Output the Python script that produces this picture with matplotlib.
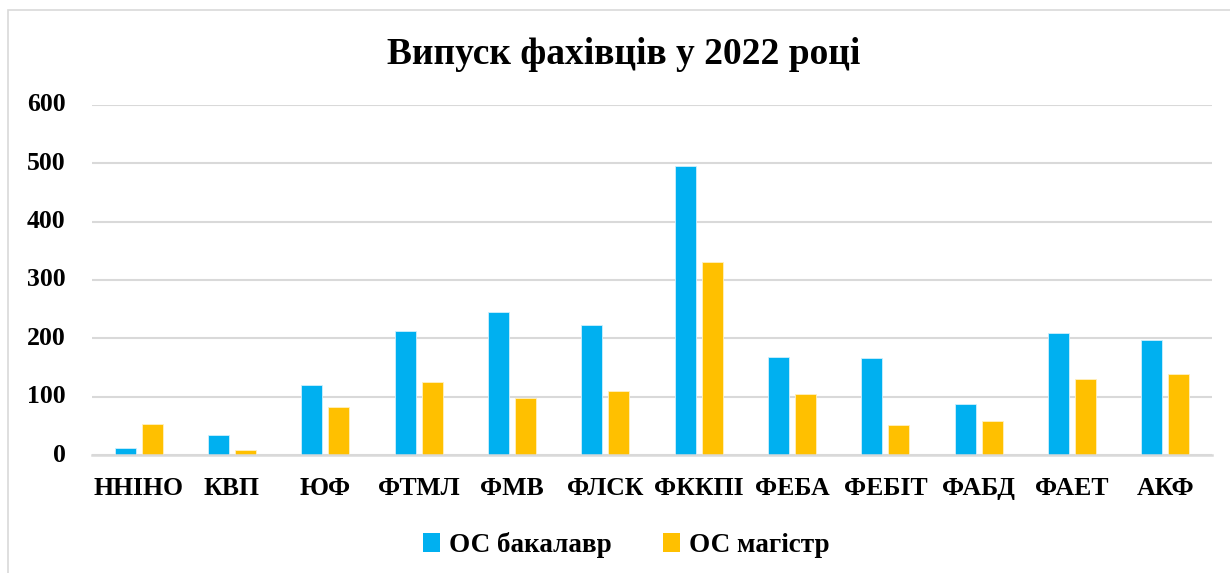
import matplotlib
matplotlib.use("Agg")
import matplotlib.pyplot as plt
from matplotlib.patches import Rectangle, Patch
import numpy as np

categories = ["ННІНО", "КВП", "ЮФ", "ФТМЛ", "ФМВ", "ФЛСК", "ФККПІ", "ФЕБА", "ФЕБІТ", "ФАБД", "ФАЕТ", "АКФ"]
bachelor = [12, 34, 120, 213, 246, 223, 495, 168, 167, 88, 210, 197]
master = [53, 9, 83, 125, 98, 110, 330, 105, 52, 58, 131, 139]
series_names = ["ОС бакалавр", "ОС магістр"]
yticks = [0, 100, 200, 300, 400, 500, 600]
title = "Випуск фахівців у 2022 році"

blue = "#00B0F0"
orange = "#FFC000"
font = ["Liberation Serif", "DejaVu Serif"]
plt.rcParams["font.family"] = font
plt.rcParams["font.weight"] = "bold"

W, H = 1230, 573
fig = plt.figure(figsize=(W / 100, H / 100), dpi=100)
ax = fig.add_axes([92 / W, 1 - 455 / H, (1212 - 92) / W, (455 - 105) / H])

x = np.arange(len(categories))
bw = 0.225
off = 0.145
ax.bar(x - off, bachelor, bw, color=blue, edgecolor="#cfeffc", linewidth=0.6, zorder=3)
ax.bar(x + off, master, bw, color=orange, edgecolor="#fff0c0", linewidth=0.6, zorder=3)

ax.set_xlim(-0.5, len(categories) - 0.5)
ax.set_ylim(0, 600)
ax.set_yticks(yticks)
ax.set_yticklabels([str(v) for v in yticks], fontsize=18.5, fontweight="bold")
ax.set_xticks(x)
ax.set_xticklabels(categories, fontsize=18.5, fontweight="bold")
ax.tick_params(axis="y", length=0, pad=19)
ax.tick_params(axis="x", length=0, pad=16)
for t in ax.get_yticklabels():
    t.set_verticalalignment("center")
ax.grid(axis="y", color="#D9D9D9", linewidth=1.5, zorder=0)
for s in ["top", "right", "left"]:
    ax.spines[s].set_visible(False)
ax.spines["bottom"].set_color("#D9D9D9")
ax.spines["bottom"].set_linewidth(1.8)
ax.spines["bottom"].set_zorder(4)

fig.text(624 / W, 1 - 54 / H, title, ha="center", va="center", fontsize=27, fontweight="bold")

handles = [Patch(facecolor=blue, edgecolor="none"), Patch(facecolor=orange, edgecolor="none")]
fig.legend(handles, series_names, loc="center", bbox_to_anchor=(626 / W, 1 - 545 / H),
           ncol=2, frameon=False, prop={"size": 19.5, "weight": "bold"},
           handlelength=0.65, handleheight=0.65, handletextpad=0.3, columnspacing=1.9)

# chart border
fig.patches.append(Rectangle((8 / W, -0.2), 1.2, 1.2 - 10 / H, transform=fig.transFigure,
                             fill=False, edgecolor="#D9D9D9", linewidth=1.2))

fig.savefig("out.png", dpi=100, facecolor="white")
